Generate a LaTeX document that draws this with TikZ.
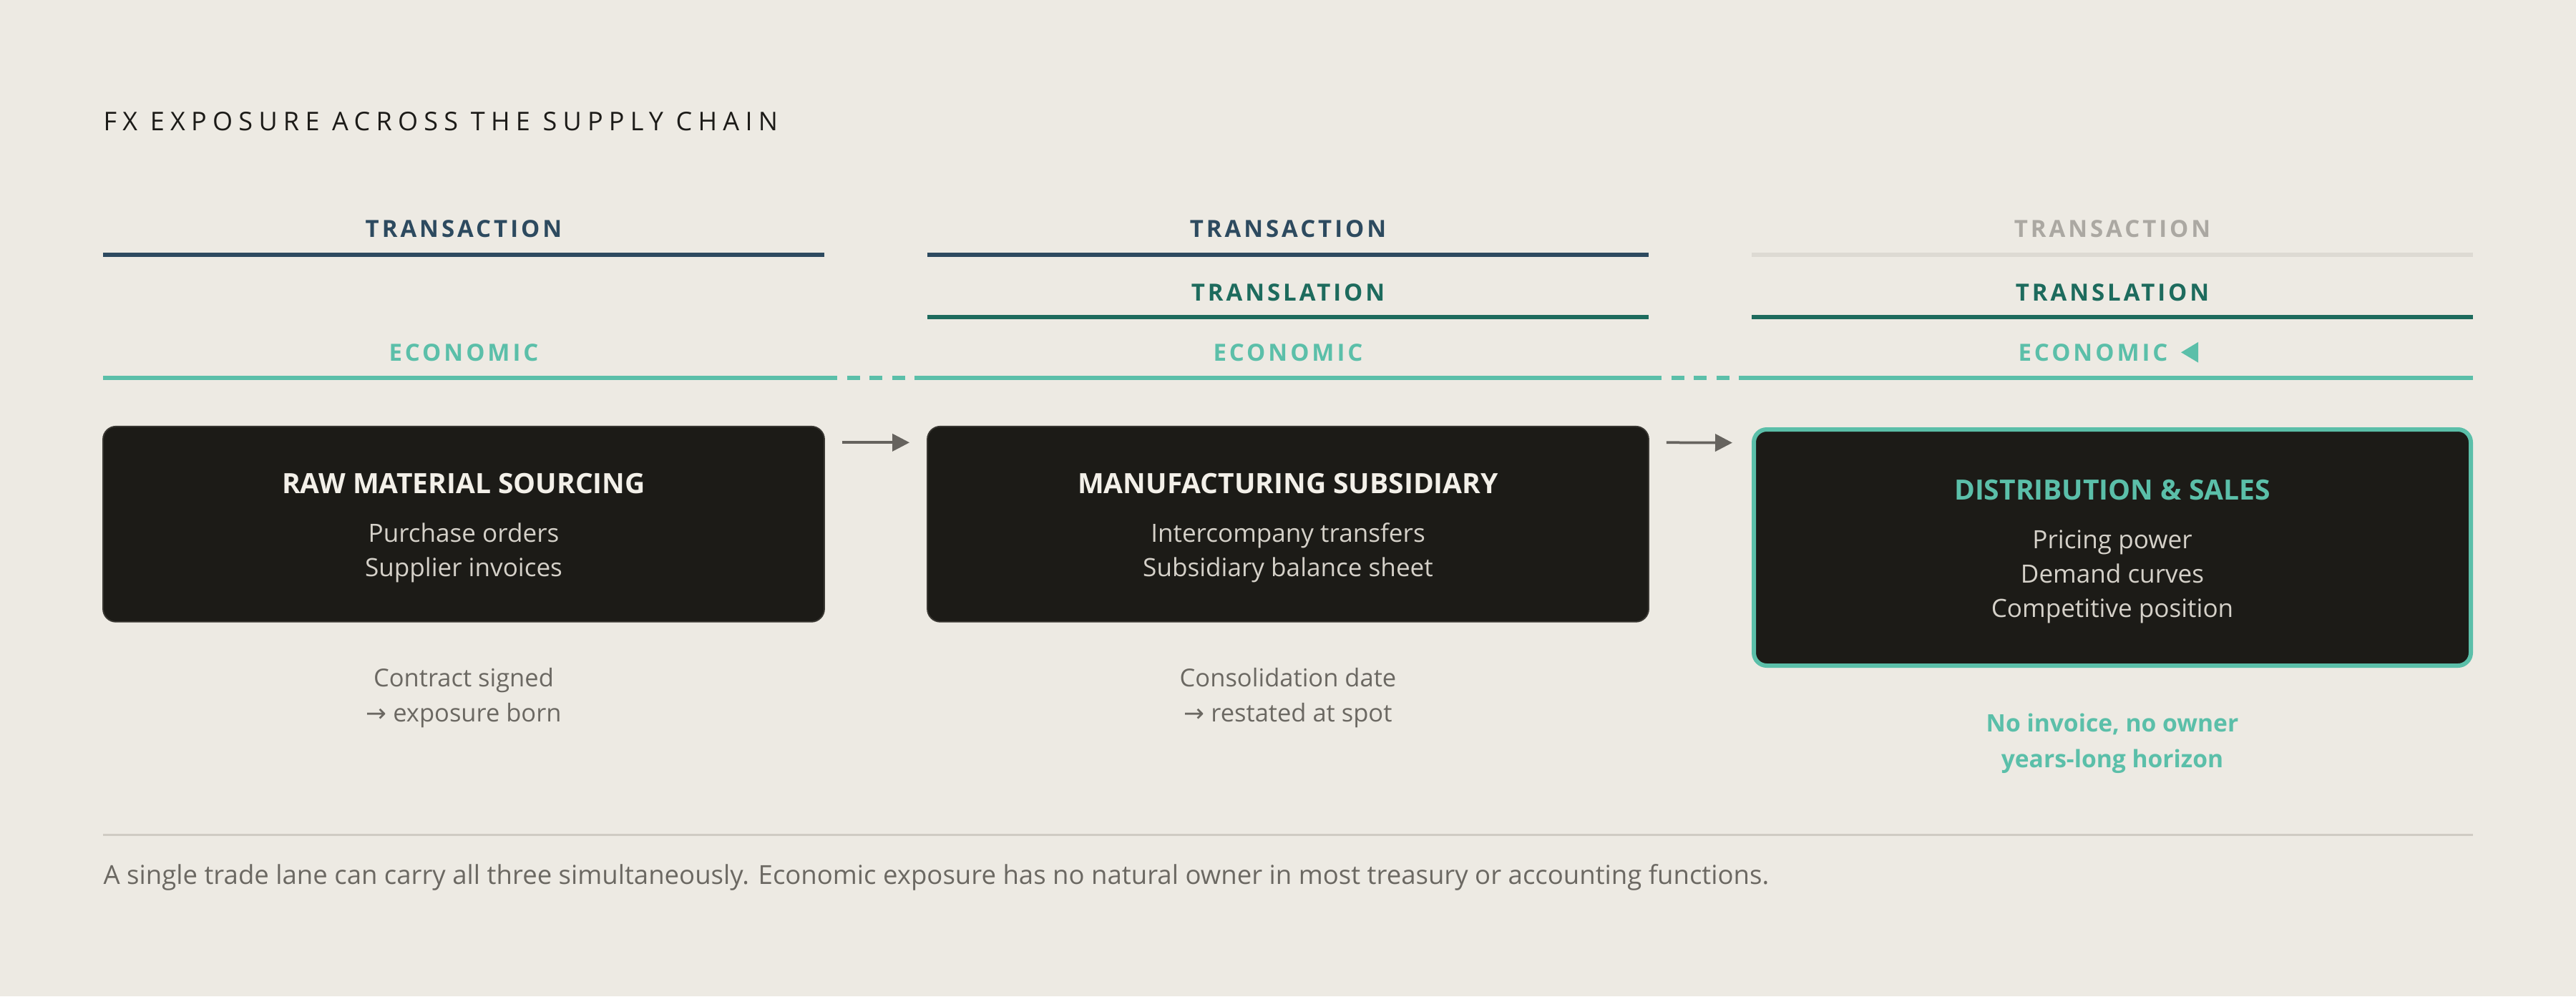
\documentclass[tikz,border=0pt]{standalone}
\usepackage{fontspec}
\setmainfont{Open Sans}
\newfontfamily\arrowfont{DejaVu Sans}
\usepackage{xcolor}
\usetikzlibrary{calc}
\usetikzlibrary{arrows.meta}

\definecolor{paper}{HTML}{EDEAE3}
\definecolor{ink}{HTML}{1C1B18}
\definecolor{boxfill}{HTML}{1C1B17}
\definecolor{boxedge}{HTML}{3A3833}
\definecolor{stagetitle}{HTML}{F3F0E9}
\definecolor{stagebody}{HTML}{D5D1C9}
\definecolor{notegray}{HTML}{6B6862}
\definecolor{arrowgray}{HTML}{66635E}
\definecolor{transcol}{HTML}{2D4A5F}
\definecolor{translcol}{HTML}{1D6B5D}
\definecolor{econcol}{HTML}{5BBFA9}
\definecolor{fadetext}{HTML}{ABA8A2}
\definecolor{fadeline}{HTML}{DDDAD3}
\definecolor{rulegray}{HTML}{CFCBC3}

\newcommand{\headfont}{\fontsize{12}{14}\selectfont\addfontfeatures{LetterSpace=23}}
\newcommand{\lanefont}{\fontsize{11}{13}\selectfont\bfseries\addfontfeatures{LetterSpace=12}}
\newcommand{\stagefont}{\fontsize{13}{16}\selectfont\bfseries\rule{0pt}{13pt}}
\newcommand{\bodyfont}{\fontsize{11.7}{16}\selectfont}
\newcommand{\notefont}{\fontsize{11.5}{16.5}\selectfont}

\begin{document}
\begin{tikzpicture}[x=1pt,y=-1pt,
                    lane line/.style={line width=2pt},
                    lane label/.style={font=\lanefont, inner sep=0pt},
                    stage box/.style={fill=boxfill, draw=boxedge, line width=0.6pt, rounded corners=6pt,
                        minimum width=336pt, anchor=north, align=center, inner sep=0pt,
                        font=\bodyfont, text=stagebody},
                    note/.style={font=\notefont, align=center, text=notegray, inner sep=0pt},
                    flow/.style={arrowgray, line width=1.25pt, -{Triangle[length=8pt,width=8pt]}}]
\fill[paper] (0,0) rectangle (1200,464);
\useasboundingbox (0,0) rectangle (1200,464);
\def\ca{216}\def\cb{600}\def\cc{984} % column centres
\node[font=\headfont, text=ink, anchor=west, inner sep=0pt] (head) at (48,56.7) {FX EXPOSURE ACROSS THE SUPPLY CHAIN};
% exposure lanes above the chain
\node[lane label, text=transcol] (transA) at (\ca,106.4) {TRANSACTION};
\node[lane label, text=transcol] (transB) at (\cb,106.4) {TRANSACTION};
\node[lane label, text=fadetext] (transC) at (\cc,106.4) {TRANSACTION};
\draw[lane line, transcol] (48,118.6) -- (384,118.6);
\draw[lane line, transcol] (432,118.6) -- (768,118.6);
\draw[lane line, fadeline] (816,118.6) -- (1152,118.6);
\node[lane label, text=translcol] (translB) at (\cb,136.3) {TRANSLATION};
\node[lane label, text=translcol] (translC) at (\cc,136.3) {TRANSLATION};
\draw[lane line, translcol] (432,147.7) -- (768,147.7);
\draw[lane line, translcol] (816,147.7) -- (1152,147.7);
\node[lane label, text=econcol] (econA) at (\ca,164.1) {ECONOMIC};
\node[lane label, text=econcol] (econB) at (\cb,164.1) {ECONOMIC};
\node[lane label, text=econcol] (econC) at (975,164.1) {ECONOMIC};
\fill[econcol] ([xshift=6pt]econC.east) -- ++(8,-4.8) -- ++(0,9.6) -- cycle; % marker
\draw[lane line, econcol] (48,176) -- (390,176);
\draw[lane line, econcol] (426,176) -- (774,176);
\draw[lane line, econcol] (810,176) -- (1152,176);
\draw[lane line, econcol, dash pattern=on 6pt off 4.5pt] (394.5,176) -- (421.5,176); % carries over
\draw[lane line, econcol, dash pattern=on 6pt off 4.5pt] (778.5,176) -- (805.5,176);
% the chain itself
\node[stage box, minimum height=91pt] (raw) at (\ca,198.3) {{\stagefont\color{stagetitle}RAW MATERIAL SOURCING}\\[6.6pt]Purchase orders\\Supplier invoices};
\node[stage box, minimum height=91pt] (mfg) at (\cb,198.3) {{\stagefont\color{stagetitle}MANUFACTURING SUBSIDIARY}\\[6.6pt]Intercompany transfers\\Subsidiary balance sheet};
\node[stage box, draw=econcol, line width=2pt, minimum width=334pt, minimum height=110pt] (dist) at (\cc,199) {{\stagefont\color{econcol}DISTRIBUTION \& SALES}\\[6.6pt]Pricing power\\Demand curves\\Competitive position};
\draw[flow] ([shift={(8,7.8)}]raw.north east) -- ([shift={(-8,7.8)}]mfg.north west);
\draw[flow] ([shift={(8,7.8)}]mfg.north east) -- ([shift={(-9,7.2)}]dist.north west);
% what triggers each exposure
\node[note] (rawnote) at (\ca,325) {Contract signed\\{\arrowfont →} exposure born};
\node[note] (mfgnote) at (\cb,325) {Consolidation date\\{\arrowfont →} restated at spot};
\node[note, text=econcol, font=\fontsize{11.2}{16.5}\selectfont\bfseries] (distnote) at (\cc,346.2) {No invoice, no owner\\years-long horizon};
\draw[rulegray, line width=1pt] (48,388.8) -- (1152,388.8);
\node[font=\fontsize{12.18}{15}\selectfont, text=notegray, anchor=west, inner sep=0pt] (foot) at (48,408.6) {A single trade lane can carry all three simultaneously. Economic exposure has no natural owner in most treasury or accounting functions.};
\end{tikzpicture}
\end{document}
